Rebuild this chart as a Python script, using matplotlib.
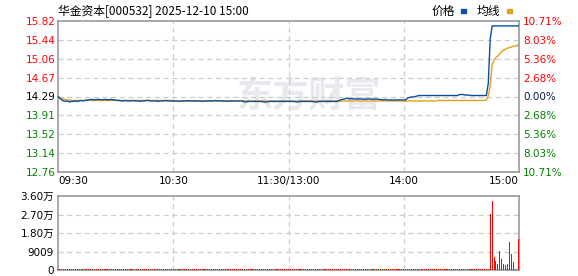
import matplotlib.pyplot as plt
import numpy as np

plt.rcParams["font.family"] = ["DejaVu Sans", "Noto Sans CJK SC"]

PRE_CLOSE = 14.29

# minute prices, 09:30-11:30 then 13:01-15:00 (241 points)
price = [
    14.29, 14.25, 14.22, 14.20, 14.19, 14.20, 14.18, 14.19, 14.19, 14.20, 14.19,
    14.20, 14.21, 14.20, 14.21, 14.22, 14.22, 14.23, 14.23, 14.22, 14.23,
    14.23, 14.23, 14.22, 14.23, 14.23, 14.22, 14.23, 14.23, 14.22, 14.22,
    14.21, 14.21, 14.20, 14.20, 14.21, 14.20, 14.20, 14.20, 14.21, 14.20,
    14.20, 14.20, 14.19, 14.20, 14.20, 14.21, 14.21, 14.20, 14.20, 14.20,
    14.20, 14.19, 14.20, 14.20, 14.20, 14.21, 14.20, 14.20, 14.20, 14.20,
    14.20, 14.20, 14.19, 14.20, 14.20, 14.20, 14.20, 14.21, 14.20, 14.20,
    14.20, 14.20, 14.20, 14.20, 14.19, 14.20, 14.20, 14.20, 14.20, 14.20,
    14.20, 14.21, 14.20, 14.20, 14.20, 14.20, 14.20, 14.19, 14.20, 14.20,
    14.20, 14.20, 14.20, 14.20, 14.20, 14.20, 14.18, 14.18, 14.19, 14.19,
    14.19, 14.19, 14.19, 14.19, 14.19, 14.19, 14.18, 14.18, 14.18, 14.19,
    14.19, 14.19, 14.19, 14.19, 14.19, 14.19, 14.19, 14.19, 14.19, 14.19,
    14.19, 14.19, 14.19, 14.18, 14.18, 14.19, 14.19, 14.19, 14.19, 14.19,
    14.19, 14.19, 14.18, 14.18, 14.18, 14.19, 14.19, 14.19, 14.19, 14.19,
    14.19, 14.19, 14.19, 14.19, 14.19, 14.20, 14.22, 14.23, 14.24, 14.25,
    14.25, 14.24, 14.25, 14.24, 14.24, 14.24, 14.24, 14.24, 14.24, 14.23,
    14.24, 14.24, 14.24, 14.23, 14.24, 14.24, 14.23, 14.23, 14.22, 14.23,
    14.22, 14.22, 14.22, 14.22, 14.22, 14.22, 14.22, 14.22, 14.22, 14.22,
    14.22, 14.26, 14.27, 14.28, 14.28, 14.29, 14.30, 14.31, 14.31, 14.31,
    14.31, 14.31, 14.31, 14.31, 14.31, 14.31, 14.31, 14.31, 14.31, 14.31,
    14.31, 14.31, 14.31, 14.31, 14.31, 14.31, 14.31, 14.31, 14.33, 14.33,
    14.33, 14.32, 14.32, 14.32, 14.31, 14.31, 14.31, 14.31, 14.31, 14.31,
    14.31, 14.31, 14.31, 14.55, 15.45, 15.72, 15.72, 15.72, 15.72, 15.72,
    15.72, 15.72, 15.72, 15.72, 15.72, 15.72, 15.72, 15.72, 15.72, 15.72,
]

avg_price = [
    14.29, 14.27, 14.25, 14.24, 14.23, 14.22, 14.22, 14.21, 14.21, 14.21, 14.21,
    14.21, 14.21, 14.21, 14.21, 14.21, 14.21, 14.21, 14.21, 14.21, 14.21,
    14.21, 14.21, 14.21, 14.21, 14.21, 14.21, 14.21, 14.21, 14.21, 14.21,
    14.21, 14.21, 14.21, 14.21, 14.21, 14.21, 14.21, 14.21, 14.21, 14.21,
    14.21, 14.21, 14.21, 14.21, 14.21, 14.21, 14.21, 14.21, 14.21, 14.21,
    14.21, 14.21, 14.21, 14.21, 14.21, 14.21, 14.21, 14.21, 14.21, 14.20,
    14.20, 14.20, 14.20, 14.20, 14.20, 14.20, 14.20, 14.20, 14.20, 14.20,
    14.20, 14.20, 14.20, 14.20, 14.20, 14.20, 14.20, 14.20, 14.20, 14.20,
    14.20, 14.20, 14.20, 14.20, 14.20, 14.20, 14.20, 14.20, 14.20, 14.20,
    14.20, 14.20, 14.20, 14.20, 14.20, 14.20, 14.20, 14.20, 14.20, 14.20,
    14.20, 14.20, 14.20, 14.20, 14.20, 14.20, 14.20, 14.20, 14.20, 14.20,
    14.20, 14.20, 14.20, 14.20, 14.20, 14.20, 14.20, 14.20, 14.20, 14.20,
    14.20, 14.20, 14.20, 14.20, 14.20, 14.20, 14.20, 14.20, 14.20, 14.20,
    14.20, 14.20, 14.20, 14.20, 14.20, 14.20, 14.20, 14.20, 14.20, 14.20,
    14.20, 14.20, 14.20, 14.20, 14.20, 14.20, 14.20, 14.20, 14.20, 14.20,
    14.20, 14.20, 14.20, 14.20, 14.20, 14.20, 14.20, 14.20, 14.20, 14.20,
    14.20, 14.20, 14.20, 14.20, 14.20, 14.20, 14.20, 14.20, 14.20, 14.20,
    14.20, 14.20, 14.20, 14.20, 14.20, 14.20, 14.20, 14.20, 14.20, 14.20,
    14.20, 14.20, 14.20, 14.20, 14.20, 14.20, 14.20, 14.20, 14.20, 14.20,
    14.20, 14.20, 14.20, 14.20, 14.20, 14.20, 14.20, 14.21, 14.21, 14.21,
    14.21, 14.21, 14.21, 14.21, 14.21, 14.21, 14.21, 14.21, 14.21, 14.21,
    14.21, 14.21, 14.21, 14.21, 14.21, 14.21, 14.21, 14.21, 14.21, 14.21,
    14.21, 14.21, 14.22, 14.30, 14.50, 14.94, 15.03, 15.08, 15.11, 15.16,
    15.20, 15.23, 15.25, 15.27, 15.28, 15.29, 15.31, 15.31, 15.32, 15.35,
]

# volume per minute, shares
volume = [
    600, 500, 400, 500, 300, 400, 300, 300, 400, 300, 300,
    400, 300, 300, 400, 300, 400, 300, 300, 300, 400,
    300, 300, 400, 300, 300, 300, 400, 300, 300, 300,
    400, 300, 300, 300, 400, 300, 300, 300, 300, 400,
    300, 300, 300, 400, 300, 300, 300, 300, 400, 300,
    300, 300, 400, 300, 300, 300, 300, 400, 300, 300,
    300, 400, 300, 300, 300, 300, 400, 300, 300, 300,
    400, 300, 300, 300, 300, 400, 300, 300, 300, 300,
    400, 300, 300, 300, 400, 300, 300, 300, 300, 400,
    300, 300, 300, 300, 400, 300, 300, 300, 300, 400,
    300, 300, 300, 400, 300, 300, 300, 300, 400, 300,
    300, 300, 400, 300, 300, 300, 300, 400, 300, 300,
    300, 400, 300, 300, 300, 300, 400, 300, 300, 300,
    400, 300, 300, 300, 300, 400, 300, 300, 300, 300,
    400, 300, 300, 300, 300, 400, 300, 300, 300, 300,
    400, 300, 300, 300, 400, 300, 300, 300, 300, 400,
    300, 300, 300, 300, 400, 300, 300, 300, 300, 400,
    300, 300, 300, 400, 300, 300, 300, 300, 400, 300,
    300, 300, 400, 300, 300, 300, 300, 400, 300, 300,
    300, 400, 300, 300, 300, 300, 400, 300, 300, 300,
    400, 300, 300, 300, 300, 400, 300, 300, 300, 300,
    400, 300, 300, 300, 300, 400, 300, 300, 300, 300,
    400, 300, 300, 600, 27500, 33400, 6400, 4400, 2900, 9300,
    5400, 2900, 2500, 2900, 13400, 7900, 4100, 500, 0, 15200,
]

price_ticks = [15.82, 15.44, 15.06, 14.67, 14.29, 13.91, 13.52, 13.14, 12.76]
pct_labels = ["10.71%", "8.03%", "5.36%", "2.68%", "0.00%", "2.68%", "5.36%", "8.03%", "10.71%"]
time_pos = [0, 60, 120, 180, 240]
time_labels = ["09:30", "10:30", "11:30/13:00", "14:00", "15:00"]
vol_ticks = [0, 9009, 18018, 27027, 36036]
vol_labels = ["0", "9009", "1.80万", "2.70万", "3.60万"]

RED = "#ff0000"
GREEN = "#008000"
BLUE = "#0b4e9e"
GOLD = "#e0a020"
GRID = "#cccccc"
SPINE = "#999999"

W, H = 578, 276
fig = plt.figure(figsize=(W / 100, H / 100), dpi=100)
ax = fig.add_axes([58 / W, (H - 172) / H, 461 / W, 151 / H])
axv = fig.add_axes([58 / W, (H - 270) / H, 461 / W, 74 / H])

x = np.arange(len(price))

# price panel
ax.plot(x, price, color=BLUE, lw=1.0, zorder=3)
ax.plot(x, avg_price, color=GOLD, lw=1.0, zorder=2)
ax.set_xlim(0, 240)
ax.set_ylim(price_ticks[-1], price_ticks[0])
ax.set_yticks(price_ticks)
ax.set_yticklabels([f"{p:.2f}" for p in price_ticks], fontsize=7.5)
for lab, p in zip(ax.get_yticklabels(), price_ticks):
    lab.set_color(RED if p > PRE_CLOSE else (GREEN if p < PRE_CLOSE else "#000000"))
ax.set_xticks(time_pos)
ax.set_xticklabels(time_labels, fontsize=7.5)
tl = ax.get_xticklabels()
tl[0].set_ha("left")
tl[-1].set_ha("right")
ax.tick_params(length=0, pad=3)
ax.tick_params(axis="y", pad=2)
for y in price_ticks[1:-1]:
    ax.axhline(y, color=GRID, lw=0.9, ls=(0, (4, 3)), zorder=1)
for t in time_pos[1:-1]:
    ax.axvline(t, color=GRID, lw=0.9, ls=(0, (4, 3)), zorder=1)
for s in ax.spines.values():
    s.set_color(SPINE)
    s.set_linewidth(1.2)

axr = ax.twinx()
axr.set_ylim(ax.get_ylim())
axr.set_yticks(price_ticks)
axr.set_yticklabels(pct_labels, fontsize=7.5)
for lab, p in zip(axr.get_yticklabels(), price_ticks):
    lab.set_color(RED if p > PRE_CLOSE else (GREEN if p < PRE_CLOSE else "#0a1a4a"))
axr.tick_params(length=0, pad=3)
for s in axr.spines.values():
    s.set_visible(False)

# watermark
ax.text(0.545, 0.5, "东方财富", transform=ax.transAxes, ha="center", va="center",
        fontsize=26, fontweight="bold", color="#e8e8ee", family="Noto Sans CJK SC", zorder=0)

# volume panel
bar_colors = [RED]
for i in range(1, len(price)):
    bar_colors.append(GREEN if price[i] < price[i - 1] else RED)
axv.bar(x, volume, width=0.55, color=bar_colors, zorder=3)
axv.set_xlim(0, 240)
axv.set_ylim(0, vol_ticks[-1])
axv.set_yticks(vol_ticks)
axv.set_yticklabels(vol_labels, fontsize=7.5, family=["DejaVu Sans", "Noto Sans CJK SC"])
axv.set_xticks([])
axv.tick_params(length=0, pad=3)
for y in vol_ticks[1:-1]:
    axv.axhline(y, color=GRID, lw=0.9, ls=(0, (4, 3)), zorder=1)
for t in time_pos[1:-1]:
    axv.axvline(t, color=GRID, lw=0.9, ls=(0, (4, 3)), zorder=1)
for s in axv.spines.values():
    s.set_color(SPINE)
    s.set_linewidth(1.2)

# header
fig.text(58 / W, 1 - 11 / H, "华金资本[000532] 2025-12-10 15:00", fontsize=8.5,
         family=["Noto Sans CJK SC", "DejaVu Sans"], va="center", ha="left")
fig.text(432 / W, 1 - 11 / H, "价格", fontsize=8.5, family="Noto Sans CJK SC", va="center")
fig.patches.append(plt.Rectangle((461 / W, 1 - 13 / H), 5 / W, 4 / H, color=BLUE,
                                 transform=fig.transFigure, figure=fig))
fig.text(477 / W, 1 - 11 / H, "均线", fontsize=8.5, family="Noto Sans CJK SC", va="center")
fig.patches.append(plt.Rectangle((507 / W, 1 - 13 / H), 5 / W, 4 / H, color=GOLD,
                                 transform=fig.transFigure, figure=fig))

fig.savefig("out.png", dpi=100)
